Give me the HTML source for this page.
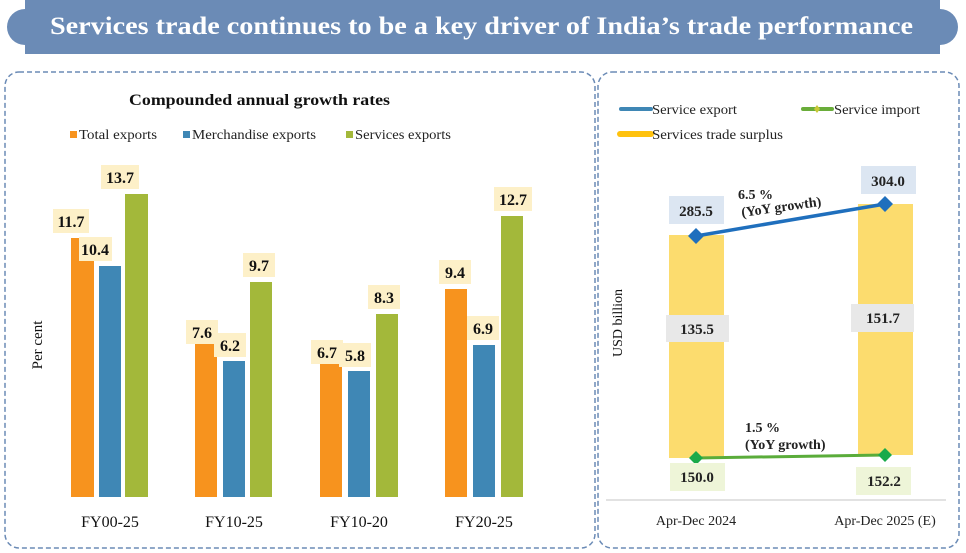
<!DOCTYPE html>
<html><head><meta charset="utf-8"><style>
html,body{margin:0;padding:0;background:#fff;}
svg{display:block;}
.s{font-family:"Liberation Serif",serif;}
.b{font-weight:bold;}
</style></head><body>
<svg width="966" height="553" viewBox="0 0 966 553" xmlns="http://www.w3.org/2000/svg">
<!-- header -->
<rect x="25" y="0" width="915" height="54" fill="#6b8bb6"/>
<path d="M25,9 A18,18 0 0 0 25,45 Z" fill="#6b8bb6"/>
<path d="M940,9 A18,18 0 0 1 940,45 Z" fill="#6b8bb6"/>
<text x="50" y="34" textLength="863" lengthAdjust="spacingAndGlyphs" class="s b" font-size="25" fill="#fff">Services trade continues to be a key driver of India’s trade performance</text>
<!-- panels -->
<rect x="5" y="72" width="590" height="476" rx="14" fill="none" stroke="#6b8bb6" stroke-width="1.5" stroke-dasharray="5,3"/>
<rect x="598" y="72" width="361" height="476" rx="14" fill="none" stroke="#6b8bb6" stroke-width="1.5" stroke-dasharray="5,3"/>

<!-- left chart -->
<text x="129" y="105" textLength="261" lengthAdjust="spacingAndGlyphs" class="s b" font-size="16" fill="#111">Compounded annual growth rates</text>
<g class="s" font-size="14" fill="#222">
<rect x="70" y="131" width="7" height="7" fill="#f7931e"/><text x="79" y="139" textLength="78" lengthAdjust="spacingAndGlyphs">Total exports</text>
<rect x="183" y="131" width="7" height="7" fill="#3f87b5"/><text x="192" y="139" textLength="124" lengthAdjust="spacingAndGlyphs">Merchandise exports</text>
<rect x="346" y="131" width="7" height="7" fill="#a3b83a"/><text x="355" y="139" textLength="96" lengthAdjust="spacingAndGlyphs">Services exports</text>
</g>
<text transform="translate(42,345) rotate(-90)" text-anchor="middle" class="s" font-size="15" fill="#111">Per cent</text>
<g>
<rect x="71" y="238" width="23" height="259" fill="#f7931e"/>
<rect x="99" y="266" width="22" height="231" fill="#3f87b5"/>
<rect x="125" y="194" width="23" height="303" fill="#a3b83a"/>
<rect x="195" y="329" width="22" height="168" fill="#f7931e"/>
<rect x="223" y="361" width="22" height="136" fill="#3f87b5"/>
<rect x="250" y="282" width="22" height="215" fill="#a3b83a"/>
<rect x="320" y="350" width="22" height="147" fill="#f7931e"/>
<rect x="348" y="371" width="22" height="126" fill="#3f87b5"/>
<rect x="376" y="314" width="22" height="183" fill="#a3b83a"/>
<rect x="445" y="289" width="22" height="208" fill="#f7931e"/>
<rect x="473" y="345" width="22" height="152" fill="#3f87b5"/>
<rect x="501" y="216" width="22" height="281" fill="#a3b83a"/>
</g>
<g class="s b" font-size="16" fill="#111" text-anchor="middle">
<rect x="53" y="209" width="36" height="24" fill="#fdf0c8"/><text x="71" y="227">11.7</text>
<rect x="79" y="237" width="33" height="24" fill="#fdf0c8"/><text x="95" y="255">10.4</text>
<rect x="101" y="165" width="38" height="24" fill="#fdf0c8"/><text x="120" y="183">13.7</text>
<rect x="186" y="320" width="32" height="24" fill="#fdf0c8"/><text x="202" y="338">7.6</text>
<rect x="214" y="333" width="32" height="24" fill="#fdf0c8"/><text x="230" y="351">6.2</text>
<rect x="243" y="253" width="32" height="24" fill="#fdf0c8"/><text x="259" y="271">9.7</text>
<rect x="311" y="340" width="32" height="24" fill="#fdf0c8"/><text x="327" y="358">6.7</text>
<rect x="339" y="343" width="32" height="24" fill="#fdf0c8"/><text x="355" y="361">5.8</text>
<rect x="368" y="285" width="32" height="24" fill="#fdf0c8"/><text x="384" y="303">8.3</text>
<rect x="439" y="260" width="32" height="24" fill="#fdf0c8"/><text x="455" y="278">9.4</text>
<rect x="467" y="316" width="32" height="24" fill="#fdf0c8"/><text x="483" y="334">6.9</text>
<rect x="494" y="187" width="38" height="24" fill="#fdf0c8"/><text x="513" y="205">12.7</text>
</g>
<g class="s" font-size="16" fill="#111" text-anchor="middle">
<text x="110" y="527">FY00-25</text>
<text x="234" y="527">FY10-25</text>
<text x="359" y="527">FY10-20</text>
<text x="484" y="527">FY20-25</text>
</g>

<!-- right chart -->
<g class="s" font-size="14" fill="#222">
<line x1="621" y1="109" x2="651" y2="109" stroke="#3f87b5" stroke-width="4" stroke-linecap="round"/><text x="652" y="114" textLength="85" lengthAdjust="spacingAndGlyphs">Service export</text>
<line x1="803" y1="109" x2="832" y2="109" stroke="#6aad3a" stroke-width="4" stroke-linecap="round"/><path d="M817,105 l3,4 -3,4 -3,-4z" fill="#c8c838"/><text x="834" y="114" textLength="86" lengthAdjust="spacingAndGlyphs">Service import</text>
<line x1="620" y1="134" x2="651" y2="134" stroke="#ffc20e" stroke-width="6" stroke-linecap="round"/><text x="652" y="139" textLength="131" lengthAdjust="spacingAndGlyphs">Services trade surplus</text>
</g>
<text transform="translate(622,323) rotate(-90)" text-anchor="middle" class="s" font-size="14" fill="#111">USD billion</text>
<rect x="669" y="235" width="55" height="223" fill="#fcdc6e"/>
<rect x="858" y="204" width="55" height="251" fill="#fcdc6e"/>
<line x1="606" y1="500" x2="946" y2="500" stroke="#d9d9d9" stroke-width="1.5"/>
<line x1="696" y1="236" x2="885" y2="204" stroke="#1f6fbd" stroke-width="3.5"/>
<line x1="696" y1="458" x2="885" y2="455" stroke="#5aac3a" stroke-width="3"/>
<path d="M696,228 l8,8 -8,8 -8,-8z" fill="#1f6fbd"/>
<path d="M885,196 l8,8 -8,8 -8,-8z" fill="#1f6fbd"/>
<path d="M696,451 l7,7 -7,7 -7,-7z" fill="#1aaa4a"/>
<path d="M885,448 l7,7 -7,7 -7,-7z" fill="#1aaa4a"/>
<g class="s b" font-size="15" fill="#222" text-anchor="middle">
<rect x="669" y="196" width="55" height="28" fill="#dce6f2"/><text x="696" y="216">285.5</text>
<rect x="861" y="166" width="55" height="28" fill="#dce6f2"/><text x="888" y="186">304.0</text>
<rect x="666" y="315" width="63" height="27" fill="#e8e8e8"/><text x="697" y="334">135.5</text>
<rect x="851" y="304" width="63" height="28" fill="#e8e8e8"/><text x="883" y="323">151.7</text>
<rect x="670" y="463" width="55" height="28" fill="#eef5d8"/><text x="697" y="482">150.0</text>
<rect x="856" y="467" width="55" height="28" fill="#eef5d8"/><text x="884" y="486">152.2</text>
</g>
<g class="s b" font-size="14" fill="#222">
<text x="738" y="199">6.5 %</text>
<text transform="translate(742,217) rotate(-8)">(YoY growth)</text>
<text x="745" y="432">1.5 %</text>
<text x="745" y="449">(YoY growth)</text>
</g>
<g class="s" font-size="14" fill="#222" text-anchor="middle">
<text x="696" y="525">Apr-Dec 2024</text>
<text x="885" y="525">Apr-Dec 2025 (E)</text>
</g>
</svg>
</body></html>
